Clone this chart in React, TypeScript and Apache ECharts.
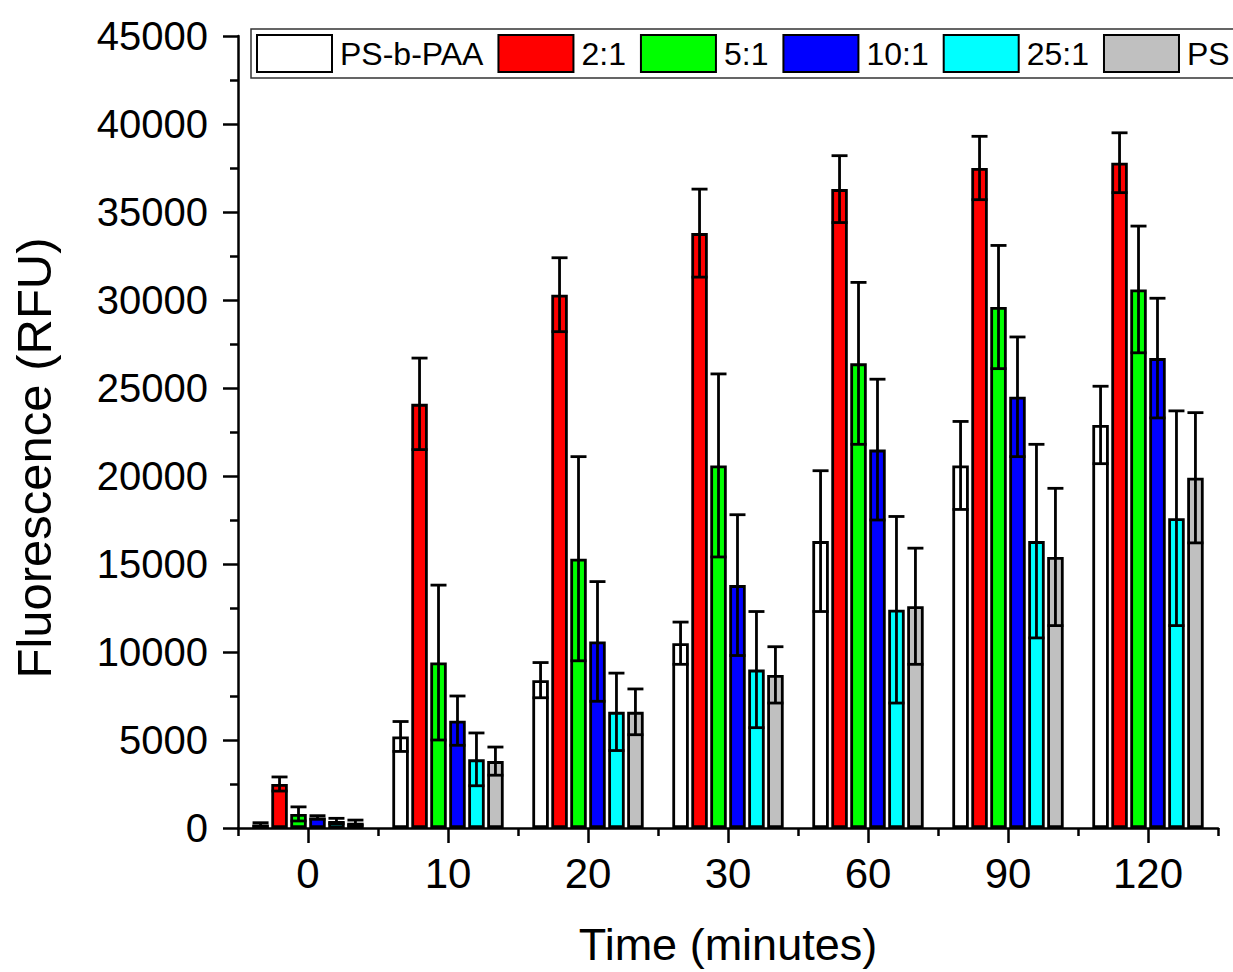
import React, { useEffect, useRef } from "react";
import * as echarts from "echarts";

const categories = ["0", "10", "20", "30", "60", "90", "120"];
const seriesNames = ["PS-b-PAA", "2:1", "5:1", "10:1", "25:1", "PS"];
const seriesColors = ["#ffffff", "#ff0000", "#00ff00", "#0000ff", "#00ffff", "#c0c0c0"];

const psbpaaValues = [200, 5200, 8400, 10500, 16300, 20600, 22900];
const psbpaaErrors = [100, 850, 1000, 1200, 4000, 2500, 2200];
const r2Values = [2500, 24100, 30300, 33800, 36300, 37500, 37800];
const r2Errors = [400, 2600, 2100, 2500, 1900, 1800, 1700];
const r5Values = [800, 9400, 15300, 20600, 26400, 29600, 30600];
const r5Errors = [400, 4400, 5800, 5200, 4600, 3500, 3600];
const r10Values = [600, 6100, 10600, 13800, 21500, 24500, 26700];
const r10Errors = [100, 1400, 3400, 4000, 4000, 3400, 3400];
const r25Values = [400, 3900, 6600, 9000, 12400, 16300, 17600];
const r25Errors = [150, 1500, 2200, 3300, 5300, 5500, 6100];
const psValues = [300, 3800, 6600, 8700, 12600, 15400, 19900];
const psErrors = [150, 800, 1300, 1600, 3300, 3900, 3700];

const allValues = [psbpaaValues, r2Values, r5Values, r10Values, r25Values, psValues];
const allErrors = [psbpaaErrors, r2Errors, r5Errors, r10Errors, r25Errors, psErrors];

const yTicks = { min: 0, max: 45000, interval: 5000 };

const BAR_W = 16.5;
const BAR_GAP = 0.15;
const CAP_W = 16;
const LINE_W = 2.8;
const FONT = "Arial";

export default function App() {
  const ref = useRef<HTMLDivElement>(null);
  useEffect(() => {
    document.body.style.margin = "0";
    const chart = echarts.init(ref.current!, null, { renderer: "svg" });
    const n = seriesNames.length;
    const barSeries = seriesNames.map((name, i) => ({
      name,
      type: "bar",
      xAxisIndex: 0,
      data: allValues[i],
      barWidth: BAR_W,
      barGap: `${BAR_GAP * 100}%`,
      itemStyle: { color: seriesColors[i], borderColor: "#000", borderWidth: LINE_W },
      emphasis: { disabled: true },
    }));
    const errData: number[][] = [];
    allValues.forEach((vals, i) => {
      vals.forEach((v, j) => errData.push([j, i, v, allErrors[i][j]]));
    });
    const errSeries = {
      type: "custom",
      xAxisIndex: 0,
      z: 10,
      data: errData,
      encode: { x: 0, y: 2 },
      renderItem: (params: any, api: any) => {
        const cat = api.value(0);
        const sIdx = api.value(1);
        const val = api.value(2);
        const err = api.value(3);
        const hi = api.coord([cat, val + err]);
        const lo = api.coord([cat, Math.max(0, val - err)]);
        const offset = (sIdx - (n - 1) / 2) * BAR_W * (1 + BAR_GAP);
        const x = hi[0] + offset;
        const st = { stroke: "#000", lineWidth: LINE_W };
        return {
          type: "group",
          children: [
            { type: "line", shape: { x1: x, y1: hi[1], x2: x, y2: lo[1] }, style: st },
            { type: "line", shape: { x1: x - CAP_W / 2, y1: hi[1], x2: x + CAP_W / 2, y2: hi[1] }, style: st },
            { type: "line", shape: { x1: x - CAP_W / 2, y1: lo[1], x2: x + CAP_W / 2, y2: lo[1] }, style: st },
          ],
        };
      },
    };
    chart.setOption({
      animation: false,
      textStyle: { fontFamily: FONT, color: "#000" },
      grid: { left: 238, right: 15, top: 36, bottom: 142, containLabel: false },
      legend: {
        data: seriesNames.map((name) => ({ name, icon: "rect" })),
        left: 251,
        top: 29,
        width: 1100,
        orient: "horizontal",
        selectedMode: false,
        itemWidth: 75,
        itemHeight: 37,
        itemGap: 14,
        padding: [5, 30, 5, 5],
        borderColor: "#333",
        borderWidth: 1.5,
        textStyle: { fontSize: 32, fontFamily: FONT, color: "#000", padding: [0, 0, 0, 3] },
      },
      xAxis: [
        {
          type: "category",
          data: categories,
          position: "bottom",
          name: "Time (minutes)",
          nameLocation: "middle",
          nameGap: 94,
          nameTextStyle: { fontSize: 45, fontFamily: FONT, color: "#000" },
          axisLine: { show: true, lineStyle: { color: "#000", width: 2.5 } },
          axisTick: { show: true, alignWithLabel: true, length: 15, lineStyle: { color: "#000", width: 2.5 } },
          axisLabel: { fontSize: 42, fontFamily: FONT, color: "#000", margin: 24 },
          splitLine: { show: false },
        },
        {
          type: "category",
          data: categories,
          position: "bottom",
          axisLine: { show: false },
          axisTick: { show: true, length: 8, lineStyle: { color: "#000", width: 2.5 } },
          axisLabel: { show: false },
          splitLine: { show: false },
        },
      ],
      yAxis: {
        type: "value",
        min: yTicks.min,
        max: yTicks.max,
        interval: yTicks.interval,
        axisLine: { show: true, lineStyle: { color: "#000", width: 2.5 } },
        axisTick: { show: true, length: 15, lineStyle: { color: "#000", width: 2.5 } },
        minorTick: { show: true, splitNumber: 2, length: 8, lineStyle: { color: "#000", width: 2.5 } },
        axisLabel: {
          fontSize: 40,
          fontFamily: FONT,
          color: "#000",
          margin: 30,
          formatter: (v: number) => String(v),
        },
        splitLine: { show: false },
        minorSplitLine: { show: false },
      },
      graphic: [
        {
          type: "text",
          x: 34,
          y: 458,
          rotation: Math.PI / 2,
          style: {
            text: "Fluorescence (RFU)",
            fontSize: 49,
            fontFamily: FONT,
            fill: "#000",
            textAlign: "center",
            textVerticalAlign: "middle",
          },
        },
      ],
      series: [...barSeries, errSeries],
    });
    return () => chart.dispose();
  }, []);
  return <div ref={ref} style={{ width: 1233, height: 972 }} />;
}
